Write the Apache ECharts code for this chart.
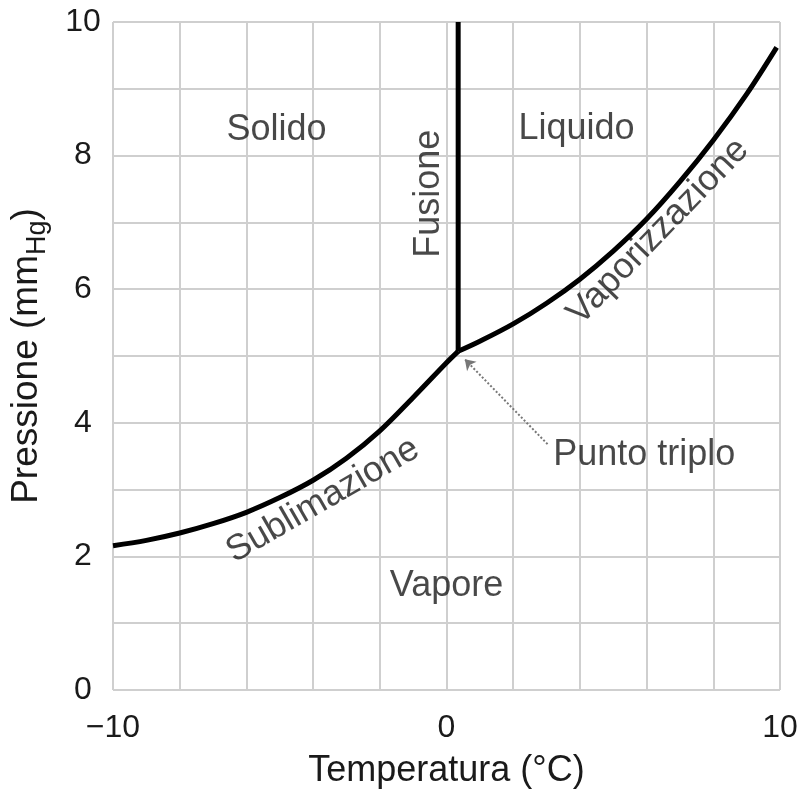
<!DOCTYPE html>
<html>
<head>
<meta charset="utf-8">
<script src="https://cdn.jsdelivr.net/npm/echarts@6/dist/echarts.min.js"></script>
<style>
html,body{margin:0;padding:0;background:#fff;}
#chart{width:802px;height:794px;}
</style>
</head>
<body>
<div id="chart"></div>
<script>
// Sublimation curve (solid -> vapour)
const sublimationX = [-10, -9, -8, -7, -6, -5, -4, -3, -2, -1, 0, 0.35];
const sublimationY = [2.16, 2.24, 2.35, 2.49, 2.66, 2.88, 3.14, 3.47, 3.88, 4.38, 4.9, 5.07];
// Vaporization curve (liquid -> vapour)
const vaporizationX = [0.35, 1, 2, 3, 4, 5, 6, 7, 8, 9, 9.9];
const vaporizationY = [5.07, 5.22, 5.48, 5.79, 6.15, 6.57, 7.05, 7.61, 8.23, 8.92, 9.62];
// Fusion line
const fusionX = [0.35, 0.35];
const fusionY = [5.07, 10];
// Axis tick labels
const xTickLabels = {"-10": "\u221210", "0": "0", "10": "10"};
const yTickLabels = ["0", "2", "4", "6", "8", "10"];
// Region / curve labels
const labelTexts = ["Solido", "Liquido", "Fusione", "Vaporizzazione", "Sublimazione", "Vapore"];
const labelX = [-5.1, 3.9, -0.53, 6.35, -3.71, 0.0];
const labelY = [8.38, 8.39, 7.43, 6.86, 2.84, 1.55];
const labelRot = [0, 0, 90, 46, 30, 0];
// Triple point annotation
const tripleText = "Punto triplo";
const tripleTextPos = [3.2, 3.51];
const arrowFrom = [3.03, 3.68];
const arrowTo = [0.55, 4.95];

const FONT = "'Liberation Sans', Arial, sans-serif";
const TXT = '#1a1a1a';
const zip = (xs, ys) => xs.map((x, i) => [x, ys[i]]);

const chart = echarts.init(document.getElementById('chart'));
chart.setOption({
  animation: false,
  backgroundColor: '#fff',
  grid: {left: 106, right: 22, top: 22, bottom: 100, containLabel: false},
  xAxis: {
    type: 'value', min: -10, max: 10, interval: 2,
    axisLine: {show: false}, axisTick: {show: false},
    splitLine: {show: true, lineStyle: {color: '#cfcfcf', width: 2}},
    axisLabel: {
      margin: 22, fontSize: 32, color: TXT, fontFamily: FONT,
      formatter: v => (xTickLabels[String(v)] !== undefined ? xTickLabels[String(v)] : '')
    },
    name: 'Temperatura (°C)', nameLocation: 'middle', nameGap: 63,
    nameTextStyle: {fontSize: 36, color: TXT, fontFamily: FONT}
  },
  yAxis: {
    type: 'value', min: 0, max: 10, interval: 1,
    axisLine: {show: false}, axisTick: {show: false},
    splitLine: {show: true, lineStyle: {color: '#cfcfcf', width: 2}},
    axisLabel: {
      margin: 30, fontSize: 32, color: TXT, fontFamily: FONT, align: 'center',
      formatter: v => (yTickLabels.indexOf(String(v)) >= 0 ? String(v) : '')
    },
    name: 'Pressione (mm{sub|Hg})', nameLocation: 'middle', nameGap: 62, nameRotate: 90,
    nameTextStyle: {
      fontSize: 37, color: TXT, fontFamily: FONT,
      rich: {sub: {fontSize: 27, color: TXT, fontFamily: FONT, padding: [22, 0, 0, 0]}}
    }
  },
  series: [
    {
      type: 'line', name: 'Sublimazione', data: zip(sublimationX, sublimationY),
      smooth: 0.35, showSymbol: false, lineStyle: {color: '#000', width: 5}
    },
    {
      type: 'line', name: 'Vaporizzazione', data: zip(vaporizationX, vaporizationY),
      smooth: 0.35, showSymbol: false, lineStyle: {color: '#000', width: 5}
    },
    {
      type: 'line', name: 'Fusione', data: zip(fusionX, fusionY),
      showSymbol: false, lineStyle: {color: '#000', width: 5}
    },
    {
      type: 'scatter', symbolSize: 0, silent: true,
      data: labelTexts.map((t, i) => ({
        value: [labelX[i], labelY[i]],
        label: {
          show: true, position: 'inside', formatter: t, rotate: labelRot[i],
          fontSize: 36, color: TXT, fontFamily: FONT
        }
      })).concat([{
        value: tripleTextPos,
        label: {show: true, position: 'inside', align: 'left', formatter: tripleText,
          fontSize: 36, color: TXT, fontFamily: FONT}
      }]),
      markLine: {
        silent: true, symbol: ['none', 'arrow'], symbolSize: 10,
        label: {show: false},
        lineStyle: {color: '#777', width: 2, type: 'dotted'},
        data: [[{coord: arrowFrom}, {coord: arrowTo}]]
      }
    }
  ]
});
</script>
</body>
</html>
